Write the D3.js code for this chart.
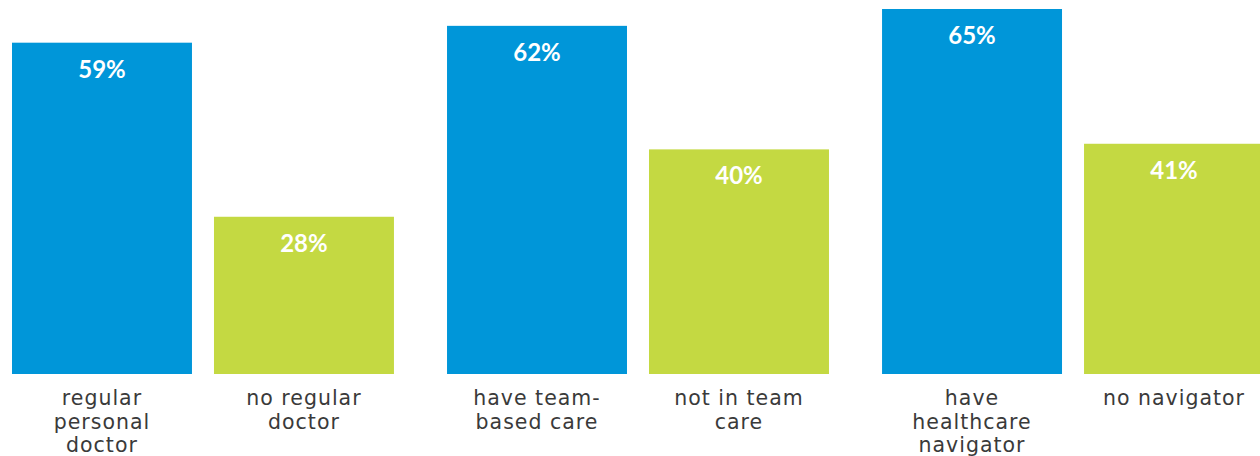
<!DOCTYPE html>
<html>
<head>
<meta charset="utf-8">
<script src="https://cdn.jsdelivr.net/npm/d3@7"></script>
<style>
  html, body { margin: 0; padding: 0; background: #ffffff; }
  svg { display: block; }
</style>
</head>
<body>
<svg id="chart" width="1260" height="456"></svg>
<script>
// Comparison groups and the two bars in each
const groups = ["doctor", "team", "navigator"];
const kinds = ["with", "without"];

// Share (%) for the "with" and "without" bar of each group
const withValues = [59, 62, 65];
const withoutValues = [28, 40, 41];

// Category labels under each bar, one entry per line
const withLabels = [
  ["regular", "personal", "doctor"],
  ["have team-", "based care"],
  ["have", "healthcare", "navigator"]
];
const withoutLabels = [
  ["no regular", "doctor"],
  ["not in team", "care"],
  ["no navigator"]
];

const colors = { with: "#0096d9", without: "#c4d942" };

const rows = [];
groups.forEach((g, i) => {
  rows.push({ group: g, kind: "with", value: withValues[i], label: withLabels[i] });
  rows.push({ group: g, kind: "without", value: withoutValues[i], label: withoutLabels[i] });
});

const svg = d3.select("#chart");
const baseline = 374;

const x0 = d3.scaleBand()
  .domain(groups)
  .range([12, 1264])
  .paddingInner(0.122);

const x1 = d3.scaleBand()
  .domain(kinds)
  .range([0, x0.bandwidth()])
  .paddingInner(0.109);

const y = d3.scaleLinear()
  .domain([0, 65])
  .range([baseline, 9]);

const bar = svg.append("g")
  .selectAll("g")
  .data(rows)
  .join("g")
  .attr("transform", d => `translate(${x0(d.group) + x1(d.kind)},0)`);

bar.append("rect")
  .attr("x", 0)
  .attr("y", d => y(d.value))
  .attr("width", x1.bandwidth())
  .attr("height", d => y(0) - y(d.value))
  .attr("fill", d => colors[d.kind]);

bar.append("text")
  .attr("x", x1.bandwidth() / 2)
  .attr("y", d => y(d.value) + 35)
  .attr("text-anchor", "middle")
  .attr("fill", "#ffffff")
  .attr("font-family", "Lato, 'DejaVu Sans', sans-serif")
  .attr("font-weight", "bold")
  .attr("font-size", 24)
  .text(d => d.value + "%");

const lbl = bar.append("text")
  .attr("text-anchor", "middle")
  .attr("fill", "#3a3a3a")
  .attr("font-family", "'DejaVu Sans', sans-serif")
  .attr("font-size", 20.5)
  .attr("letter-spacing", 1);

lbl.selectAll("tspan")
  .data(d => d.label)
  .join("tspan")
  .attr("x", x1.bandwidth() / 2)
  .attr("y", (t, i) => baseline + 31 + i * 23.5)
  .text(t => t);
</script>
</body>
</html>
